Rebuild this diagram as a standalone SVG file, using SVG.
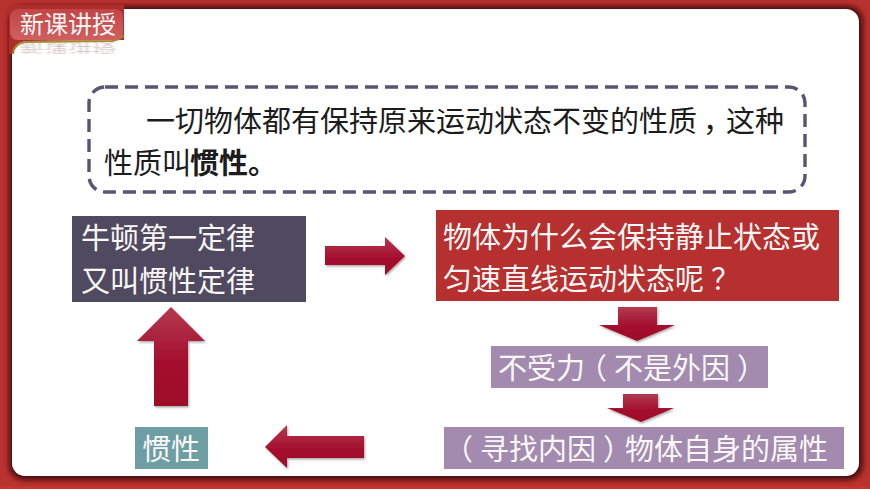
<svg xmlns="http://www.w3.org/2000/svg" width="870" height="489" viewBox="0 0 870 489">
<style>
text{font-family:"Noto Sans CJK SC",sans-serif;font-size:29px}
.w{fill:#fbf7f7}
.d{fill:#1c1c1c}
.a{fill:url(#ag);filter:url(#sh)}
</style>
<defs>
<linearGradient id="ag" x1="0" y1="0" x2="0" y2="1"><stop offset="0" stop-color="#b23a50"/><stop offset="0.55" stop-color="#a5102f"/><stop offset="1" stop-color="#9c0a28"/></linearGradient>
<linearGradient id="bd" x1="0" y1="0" x2="0" y2="1"><stop offset="0" stop-color="#c24545"/><stop offset="1" stop-color="#cf6060"/></linearGradient>
<filter id="sh" x="-20%" y="-20%" width="140%" height="140%"><feDropShadow dx="1" dy="1.5" stdDeviation="1.2" flood-color="#000" flood-opacity="0.35"/></filter>
<filter id="bl" x="-10%" y="-10%" width="120%" height="120%"><feGaussianBlur stdDeviation="2.5"/></filter>
<filter id="bl2" x="-10%" y="-30%" width="120%" height="160%"><feGaussianBlur stdDeviation="0.8"/></filter>
</defs>
<rect id="frame" width="870" height="489" fill="#b8322f"/>
<rect id="frame-edge" x="0" y="486" width="870" height="3" fill="#c9332c"/>
<rect id="page-shadow" x="9" y="6" width="854" height="474" rx="15" fill="#4a0d0d" filter="url(#bl)"/>
<rect id="page" x="12" y="9" width="847" height="467" rx="13" fill="#fff"/>
<g id="badge">
<path d="M9 5H124V40L26 41Q14 43 13 54H9Z" fill="#ad2e2c"/>
<path d="M13 54Q14 43 26 42L112 41Q120 40 124 35" fill="none" stroke="#a8862c" stroke-width="2"/>
<rect x="10" y="9" width="113" height="31" rx="8" fill="url(#bd)"/>
<text x="68" y="22" style="font-size:24px" class="w" text-anchor="middle" dominant-baseline="central">新课讲授</text>
<text transform="translate(68 48) scale(1 -0.5)" text-anchor="middle" dominant-baseline="central" style="font-size:24px" fill="#b79a9a" opacity="0.55" filter="url(#bl2)">新课讲授</text>
</g>
<g id="definition">
<rect x="89" y="87" width="716" height="105" rx="16" fill="#fff" stroke="#5a5470" stroke-width="3.4" stroke-dasharray="13 7"/>
<text x="146" y="119" class="d" dominant-baseline="central">一切物体都有保持原来运动状态不变的性质<tspan dx="6">，</tspan><tspan dx="-6">这种</tspan></text>
<text x="104" y="161" class="d" dominant-baseline="central">性质叫<tspan x="190" font-weight="700">惯性。</tspan></text>
</g>
<g id="newton">
<rect x="72" y="216" width="234" height="86" fill="#4f4a60"/>
<text x="81" y="236" class="w" dominant-baseline="central">牛顿第一定律</text>
<text x="81" y="279" class="w" dominant-baseline="central">又叫惯性定律</text>
</g>
<g id="question">
<rect x="436" y="210" width="403" height="91" fill="#b5302e"/>
<text x="443" y="235" class="w" dominant-baseline="central">物体为什么会保持静止状态或</text>
<text x="443" y="277" class="w" dominant-baseline="central">匀速直线运动状态呢<tspan dx="7">？</tspan></text>
</g>
<g id="noforce">
<rect x="491" y="346" width="277" height="42" fill="#a28bae"/>
<text x="498" y="366" class="w" dominant-baseline="central">不受力<tspan dx="-7">（</tspan><tspan dx="7">不是外因</tspan><tspan dx="7">）</tspan></text>
</g>
<g id="inner">
<rect x="444" y="427" width="400" height="42" fill="#a28bae"/>
<text x="451" y="447" class="w" dominant-baseline="central"><tspan dx="-7">（</tspan><tspan dx="7">寻找内因</tspan><tspan dx="7">）</tspan><tspan dx="-7">物体自身的属性</tspan></text>
</g>
<g id="inertia">
<rect x="135" y="427" width="73" height="42" fill="#6c9ea3"/>
<text x="142" y="447" class="w" dominant-baseline="central">惯性</text>
</g>
<g id="connectors">
<path class="a" d="M325 246H385V237L405 256L385 275V265H325Z"/>
<path class="a" d="M618 307H657V325H675L637 341L599 325H618Z"/>
<path class="a" d="M623 394H658V408H674L641 422L607 408H623Z"/>
<path class="a" d="M364 436H287V425L265 447L287 468V458H364Z"/>
<path class="a" d="M154 406H188V341H205L171 307L137 341H154Z"/>
</g>
</svg>
